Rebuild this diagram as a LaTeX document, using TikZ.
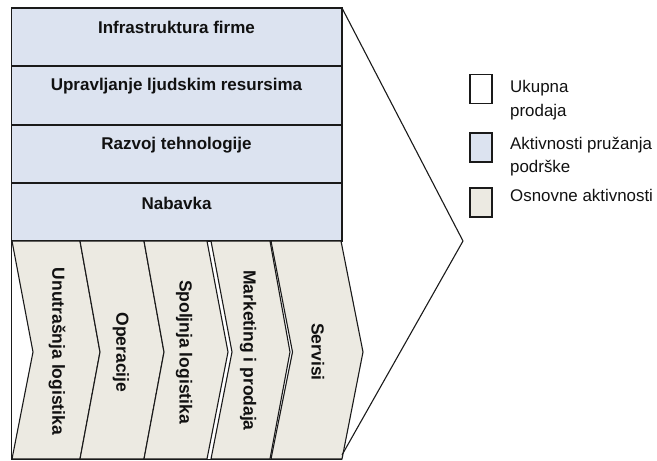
\documentclass[tikz,border=0pt]{standalone}
\usepackage{fontspec}
\setmainfont{Liberation Sans}
\begin{document}
\begin{tikzpicture}[x=1pt,y=-1pt,
  support/.style={fill=supportfill,draw=edge,line width=1.2pt},
  primary/.style={fill=primaryfill,draw=edge,line width=1.1pt,line join=miter},
  rowlabel/.style={font=\fontsize{17}{20}\selectfont\bfseries,text=ink,inner sep=0pt},
  collabel/.style={font=\fontsize{17.5}{20}\selectfont\bfseries,text=ink,inner sep=0pt,rotate=-90},
  keybox/.style={draw=edge,line width=1.1pt,minimum width=22pt,minimum height=29pt,inner sep=0pt},
  keytext/.style={font=\fontsize{16.9}{23.5}\selectfont,text=ink,align=left,anchor=west,inner sep=0pt}]
\definecolor{supportfill}{HTML}{DCE3F0}
\definecolor{primaryfill}{HTML}{ECEAE2}
\definecolor{edge}{HTML}{1A1A1A}
\definecolor{ink}{HTML}{111111}
\useasboundingbox (0,0) rectangle (657,461);

% support activities
\draw[support] (11.5,8) rectangle (342,241);
\draw[edge,line width=1.2pt] (11.5,66) -- (342,66) (11.5,125) -- (342,125) (11.5,183) -- (342,183);
\node[rowlabel] (infra) at (176.5,27) {Infrastruktura firme};
\node[rowlabel] (hr)    at (176.5,86) {Upravljanje ljudskim resursima};
\node[rowlabel] (tech)  at (176.5,145) {Razvoj tehnologije};
\node[rowlabel] (proc)  at (176.5,203) {Nabavka};

% primary activities (chevrons)
\draw[primary] (12,241) -- (80,241) -- (100,352) -- (80,459) -- (12,459) -- (33,352) -- cycle;
\draw[primary] (80,241) -- (144,241) -- (164,352) -- (144,459) -- (80,459) -- (100,352) -- cycle;
\draw[primary] (144,241) -- (207,241) -- (228,352) -- (207,459) -- (144,459) -- (164,352) -- cycle;
\draw[primary] (211,241) -- (270,241) -- (290,352) -- (270,459) -- (211,459) -- (232,352) -- cycle;
\draw[primary] (271,241) -- (341,241) -- (363,352) -- (342,459) -- (271,459) -- (292.5,352) -- cycle;

% outer frame of the primary block
\draw[edge,line width=1.2pt] (11.5,241) -- (11.5,459.5) -- (342,459.5);

\node[collabel] (inlog) at (57,351.5) {Unutrašnja logistika};
\node[collabel] (ops)   at (121,352.5) {Operacije};
\node[collabel] (outlog) at (184,352) {Spoljnja logistika};
\node[collabel] (mkt)   at (248,350.5) {Marketing i prodaja};
\node[collabel] (srv)   at (318,352) {Servisi};

% margin
\coordinate (mtop) at (342,8);
\coordinate (mtip) at (463,241);
\coordinate (mbot) at (342,455);
\draw[edge,line width=1.1pt,line join=miter] (mtop) -- (mtip) -- (mbot);

% key
\node[keybox,fill=white] (k1) at (481,89) {};
\node[keybox,fill=supportfill] (k2) at (481,147.5) {};
\node[keybox,fill=primaryfill] (k3) at (481,202.5) {};
\node[keytext] (t1) at (510,100) {Ukupna\\prodaja};
\node[keytext] (t2) at (510,156.5) {Aktivnosti pružanja\\podrške};
\node[keytext] (t3) at (510,195) {Osnovne aktivnosti};
\end{tikzpicture}
\end{document}
